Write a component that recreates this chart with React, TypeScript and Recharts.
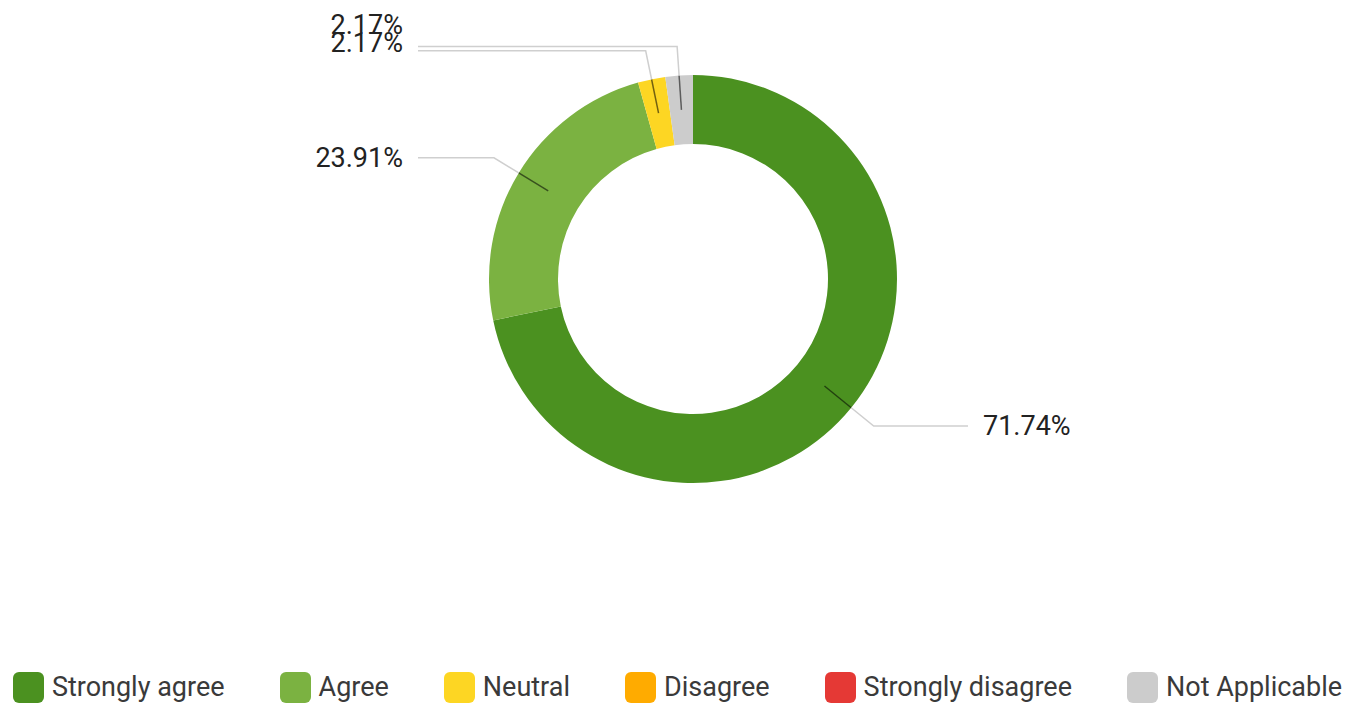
import React from "react";
import { PieChart, Pie, Cell, Legend } from "recharts";

const categories = [
  "Strongly agree",
  "Agree",
  "Neutral",
  "Disagree",
  "Strongly disagree",
  "Not Applicable",
];
const shares = [71.74, 23.91, 2.17, 0, 0, 2.17];
const colors = ["#4b9120", "#7bb241", "#fdd623", "#ffab00", "#e53935", "#cccccc"];

const data = categories.map((name, i) => ({ name, value: shares[i] }));

const CX = 693;
const CY = 279;
const INNER = 135;
const OUTER = 204;
const ELBOW = OUTER + 29;
const LINE_END = 275;
const TEXT_X = 290;
const GAP = 18;
const RAD = Math.PI / 180;
const FONT = "Roboto, 'Noto Sans', sans-serif";

// label y positions: push colliding labels on the same side apart
const labelY: Record<number, number> = (() => {
  const total = shares.reduce((a, b) => a + b, 0);
  let acc = 0;
  const items: { i: number; y: number; right: boolean }[] = [];
  shares.forEach((v, i) => {
    const mid = 90 - ((acc + v / 2) / total) * 360;
    acc += v;
    if (!v) return;
    const cos = Math.cos(-mid * RAD);
    const sin = Math.sin(-mid * RAD);
    items.push({ i, y: CY + ELBOW * sin, right: cos >= 0 });
  });
  const out: Record<number, number> = {};
  [true, false].forEach((side) => {
    const list = items.filter((d) => d.right === side).sort((a, b) => b.y - a.y);
    let prev = Infinity;
    let prevIdx = -1;
    list.forEach((d) => {
      if (prev - d.y < GAP) {
        const y = prev - GAP;
        // whole clash shifts up a little
        out[prevIdx] = prev - 8;
        out[d.i] = y - 8;
        prev = y;
      } else {
        out[d.i] = d.y;
        prev = d.y;
      }
      prevIdx = d.i;
    });
  });
  return out;
})();

const renderLabel = (props: any) => {
  const { cx, cy, midAngle, innerRadius, outerRadius, value, index } = props;
  if (!value) return null;
  const cos = Math.cos(-midAngle * RAD);
  const sin = Math.sin(-midAngle * RAD);
  const r0 = (innerRadius + outerRadius) / 2;
  const sx = cx + r0 * cos;
  const sy = cy + r0 * sin;
  const ox = cx + outerRadius * cos;
  const oy = cy + outerRadius * sin;
  const ex = cx + ELBOW * cos;
  const ey = cy + ELBOW * sin;
  const right = cos >= 0;
  const hx = right ? cx + LINE_END : cx - LINE_END;
  const ty = labelY[index] ?? ey;
  return (
    <g>
      <line x1={sx} y1={sy} x2={ox} y2={oy} stroke="rgba(0,0,0,0.55)" strokeWidth={1.5} />
      <polyline
        points={`${ox},${oy} ${ex},${ey} ${hx},${ey}`}
        fill="none"
        stroke="#cfcfcf"
        strokeWidth={1.5}
      />
      <text
        x={right ? cx + TEXT_X : cx - TEXT_X}
        y={ty}
        textAnchor={right ? "start" : "end"}
        dominantBaseline="central"
        fill="#222"
        fontSize={27}
        fontFamily={FONT}
      >
        {value.toFixed(2)}%
      </text>
    </g>
  );
};

const LegendContent = () => (
  <div
    style={{
      display: "flex",
      justifyContent: "center",
      gap: 55,
      paddingRight: 10,
      fontFamily: FONT,
      fontSize: 27,
      color: "#3a3a3a",
    }}
  >
    {categories.map((c, i) => (
      <div key={c} style={{ display: "flex", alignItems: "center", gap: 8 }}>
        <span
          style={{
            width: 31,
            height: 31,
            borderRadius: 6,
            background: colors[i],
            display: "inline-block",
          }}
        />
        <span>{c}</span>
      </div>
    ))}
  </div>
);

export default function App() {
  return (
    <div style={{ position: "absolute", left: 0, top: 0, width: 1365, height: 704, background: "#fff" }}>
      <PieChart width={1365} height={704} margin={{ top: 0, right: 0, bottom: 0, left: 0 }}>
        <Pie
          data={data}
          dataKey="value"
          nameKey="name"
          cx={CX}
          cy={CY}
          innerRadius={INNER}
          outerRadius={OUTER}
          startAngle={90}
          endAngle={-270}
          stroke="none"
          label={renderLabel}
          labelLine={false}
          isAnimationActive={false}
        >
          {data.map((d, i) => (
            <Cell key={d.name} fill={colors[i]} />
          ))}
        </Pie>
        <Legend
          verticalAlign="bottom"
          content={<LegendContent />}
          wrapperStyle={{ bottom: 1, left: 0, width: 1365 }}
        />
      </PieChart>
    </div>
  );
}
